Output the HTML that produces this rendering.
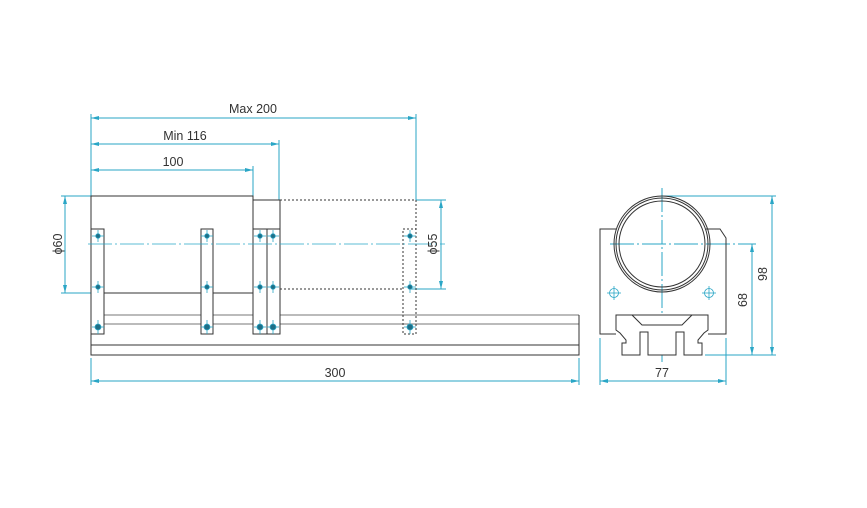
<!DOCTYPE html>
<html><head><meta charset="utf-8"><style>
html,body{margin:0;padding:0;background:#fff;}
svg{display:block;}
text{font-family:"Liberation Sans",sans-serif;font-size:12.5px;fill:#333;}
</style></head><body>
<svg width="867" height="508" viewBox="0 0 867 508" xmlns="http://www.w3.org/2000/svg">
<defs>
<marker id="a" markerWidth="8" markerHeight="6" refX="8" refY="3" orient="auto-start-reverse" markerUnits="userSpaceOnUse"><path d="M0,1 L8,3 L0,5 Z" fill="#2aa6c6"/></marker>
</defs>
<g fill="none" stroke="#2aa6c6" stroke-width="1">
<line x1="91" y1="118" x2="416" y2="118" marker-start="url(#a)" marker-end="url(#a)"/>
<line x1="91" y1="144" x2="279" y2="144" marker-start="url(#a)" marker-end="url(#a)"/>
<line x1="91" y1="170" x2="253" y2="170" marker-start="url(#a)" marker-end="url(#a)"/>
<line x1="91" y1="114" x2="91" y2="196"/>
<line x1="253" y1="166" x2="253" y2="196"/>
<line x1="279" y1="140" x2="279" y2="200"/>
<line x1="416" y1="114" x2="416" y2="200"/>
<line x1="65" y1="196" x2="65" y2="293" marker-start="url(#a)" marker-end="url(#a)"/>
<line x1="61" y1="196" x2="91" y2="196"/>
<line x1="61" y1="293" x2="91" y2="293"/>
<line x1="441" y1="200" x2="441" y2="289" marker-start="url(#a)" marker-end="url(#a)"/>
<line x1="416" y1="200" x2="446" y2="200"/>
<line x1="410" y1="289" x2="446" y2="289"/>
<line x1="91" y1="381" x2="579" y2="381" marker-start="url(#a)" marker-end="url(#a)"/>
<line x1="91" y1="358" x2="91" y2="385"/>
<line x1="579" y1="358" x2="579" y2="385"/>
<line x1="662" y1="188" x2="662" y2="362" stroke-dasharray="24,3,2,3"/>
<line x1="610" y1="244" x2="756" y2="244" stroke-dasharray="24,3,2,3"/>
<line x1="772" y1="196" x2="772" y2="355" marker-start="url(#a)" marker-end="url(#a)"/>
<line x1="752" y1="244" x2="752" y2="355" marker-start="url(#a)" marker-end="url(#a)"/>
<line x1="662" y1="196" x2="776" y2="196"/>
<line x1="705" y1="355" x2="776" y2="355"/>
<line x1="600" y1="381" x2="726" y2="381" marker-start="url(#a)" marker-end="url(#a)"/>
<line x1="600" y1="338" x2="600" y2="385"/>
<line x1="726" y1="338" x2="726" y2="385"/>
</g>
<g fill="none" stroke="#333" stroke-width="1">
<rect x="91" y="196" width="162" height="97"/>
<line x1="253" y1="200" x2="280" y2="200"/>
<line x1="280" y1="200" x2="280" y2="334"/>
<rect x="91" y="345" width="488" height="10"/>
<line x1="91" y1="334" x2="91" y2="345"/>
<g stroke="#777"><line x1="104" y1="315" x2="579" y2="315"/><line x1="104" y1="324" x2="579" y2="324"/></g>
<line x1="579" y1="315" x2="579" y2="345"/>
<rect x="91" y="229" width="13" height="105" fill="#fff"/>
<rect x="201" y="229" width="12" height="105" fill="#fff"/>
<rect x="253" y="229" width="14" height="105" fill="#fff"/>
<rect x="267" y="229" width="13" height="105" fill="#fff"/>
</g>
<g fill="none" stroke="#333" stroke-width="1" stroke-dasharray="2,2">
<polyline points="280,200 416,200 416,229"/>
<line x1="280" y1="289" x2="403" y2="289"/>
<rect x="403" y="229" width="13" height="105"/>
</g>
<g stroke="#2aa6c6" stroke-width="0.8">
<line x1="88" y1="244" x2="445" y2="244" stroke-dasharray="24,3,2,3"/>
</g>
<g fill="#1f6e86" stroke="#2aa6c6" stroke-width="0.8">
<g id="h">
<line x1="92" y1="236" x2="104" y2="236"/><line x1="98" y1="230" x2="98" y2="242"/>
<line x1="92" y1="287" x2="104" y2="287"/><line x1="98" y1="281" x2="98" y2="293"/>
<line x1="92" y1="327" x2="104" y2="327"/><line x1="98" y1="320" x2="98" y2="334"/>
<circle cx="98" cy="236" r="2.3"/><circle cx="98" cy="287" r="2.3"/><circle cx="98" cy="327" r="3"/></g>
<use href="#h" x="109"/><use href="#h" x="162"/><use href="#h" x="175"/><use href="#h" x="312"/>
</g>
<g fill="none" stroke="#333" stroke-width="1">
<polyline points="616,229 600,229 600,334 616,334"/>
<polyline points="706,229 720,229 726,238 726,334 708,334"/>
<circle cx="662" cy="244" r="48"/>
<circle cx="662" cy="244" r="46"/>
<circle cx="662" cy="244" r="43"/>
<path d="M616,315 L708,315 L708,330 L704,333 L698,340 L698,343 L702,343 L702,355 L684,355 L684,332 L676,332 L676,355 L648,355 L648,332 L640,332 L640,355 L622,355 L622,343 L626,343 L626,340 L620,333 L616,330 Z" fill="#fff"/>
<path d="M632,315 L642,325 L682,325 L692,315"/>
</g>
<g fill="none" stroke="#2aa6c6" stroke-width="0.8">
<circle cx="614" cy="293" r="4.5"/><line x1="607" y1="293" x2="621" y2="293"/><line x1="614" y1="286" x2="614" y2="300"/>
<circle cx="709" cy="293" r="4.5"/><line x1="702" y1="293" x2="716" y2="293"/><line x1="709" y1="286" x2="709" y2="300"/>
</g>
<text x="253" y="113" text-anchor="middle">Max 200</text>
<text x="185" y="140" text-anchor="middle">Min 116</text>
<text x="173" y="166" text-anchor="middle">100</text>
<text x="335" y="377" text-anchor="middle">300</text>
<text x="662" y="377" text-anchor="middle">77</text>
<text transform="translate(62,244) rotate(-90)" text-anchor="middle">ϕ60</text>
<text transform="translate(437,244) rotate(-90)" text-anchor="middle">ϕ55</text>
<text transform="translate(767,274) rotate(-90)" text-anchor="middle">98</text>
<text transform="translate(747,300) rotate(-90)" text-anchor="middle">68</text>
</svg>
</body></html>
